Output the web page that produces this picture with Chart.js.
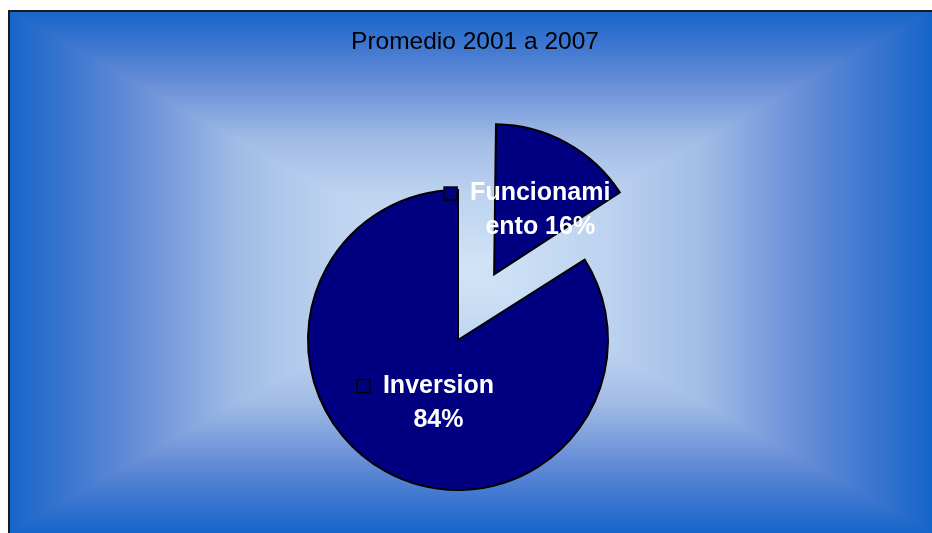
<!DOCTYPE html>
<html>
<head>
<meta charset="utf-8">
<script src="https://cdn.jsdelivr.net/npm/chart.js@4"></script>
<style>
  html, body { margin: 0; padding: 0; background: #fff; }
  canvas { display: block; }
</style>
</head>
<body>
<canvas id="pieChart" width="932" height="533"></canvas>
<script>
const categories = ['Funcionamiento', 'Inversion'];
const shares = [16, 84];
const chartTitle = 'Promedio 2001 a 2007';

// colour ramp of the rectangular "from centre" fill, centre -> edge
const ramp = [
  [0, [210, 229, 247]],
  [0.3, [188, 210, 239]],
  [0.5, [162, 188, 230]],
  [0.71, [106, 144, 216]],
  [0.86, [63, 119, 208]],
  [1, [21, 101, 201]]
];

function rampColor(t) {
  for (let i = 1; i < ramp.length; i++) {
    if (t <= ramp[i][0]) {
      const a = ramp[i - 1], b = ramp[i];
      const u = (t - a[0]) / (b[0] - a[0]);
      return a[1].map((v, k) => v + (b[1][k] - v) * u);
    }
  }
  return ramp[ramp.length - 1][1];
}

let fillCache = null;
function buildFill(w, h) {
  const c = document.createElement('canvas');
  c.width = w; c.height = h;
  const cctx = c.getContext('2d');
  const img = cctx.createImageData(w, h);
  const hw = w / 2, hh = h / 2;
  for (let y = 0; y < h; y++) {
    for (let x = 0; x < w; x++) {
      const t = Math.min(1, Math.max(Math.abs(x + 0.5 - hw) / hw, Math.abs(y + 0.5 - hh) / hh));
      const col = rampColor(t);
      const p = (y * w + x) * 4;
      img.data[p] = col[0]; img.data[p + 1] = col[1]; img.data[p + 2] = col[2]; img.data[p + 3] = 255;
    }
  }
  cctx.putImageData(img, 0, 0);
  return c;
}

const backdrop = {
  id: 'backdrop',
  beforeDraw(chart) {
    const ctx = chart.ctx;
    const x0 = 8, y0 = 10, x1 = chart.width, y1 = chart.height;
    ctx.save();
    ctx.fillStyle = '#fff';
    ctx.fillRect(0, 0, chart.width, chart.height);
    if (!fillCache) fillCache = buildFill(x1 - x0, y1 - y0);
    ctx.drawImage(fillCache, x0, y0);

    ctx.strokeStyle = '#1a1a1a';
    ctx.lineWidth = 2;
    ctx.beginPath();
    ctx.moveTo(x0 + 1, y1);
    ctx.lineTo(x0 + 1, y0 + 1);
    ctx.lineTo(x1, y0 + 1);
    ctx.stroke();

    ctx.fillStyle = '#000';
    ctx.font = '24.5px "Liberation Sans", Arial, sans-serif';
    ctx.textAlign = 'center';
    ctx.textBaseline = 'alphabetic';
    ctx.fillText(chartTitle, 475, 49);
    ctx.restore();
  }
};

// Chart.js grows an exploded arc's radius; keep it at the pie radius like Excel
const keepRadius = {
  id: 'keepRadius',
  afterDatasetsUpdate(chart) {
    const ds = chart.data.datasets[0];
    chart.getDatasetMeta(0).data.forEach((arc, i) => {
      const off = (ds.offset[i] || 0) / 4;
      const fix = 1 - Math.sin(Math.min(Math.PI, arc.circumference));
      arc.outerRadius -= off * fix;
    });
  }
};

function wrapText(ctx, text, maxWidth) {
  const lines = [];
  let line = '';
  text.split(' ').forEach(word => {
    const test = line ? line + ' ' + word : word;
    if (ctx.measureText(test).width <= maxWidth) {
      line = test;
      return;
    }
    if (line) lines.push(line);
    line = '';
    let chunk = '';
    for (const ch of word) {
      if (ctx.measureText(chunk + ch).width > maxWidth && chunk) {
        lines.push(chunk);
        chunk = ch;
      } else {
        chunk += ch;
      }
    }
    line = chunk;
  });
  if (line) lines.push(line);
  return lines;
}

const sliceLabels = {
  id: 'sliceLabels',
  afterDatasetsDraw(chart, args, opts) {
    const ctx = chart.ctx;
    const meta = chart.getDatasetMeta(0);
    const ds = chart.data.datasets[0];
    const r = meta.controller.outerRadius;
    ctx.save();
    ctx.font = 'bold 25px "Liberation Sans", Arial, sans-serif';
    ctx.textAlign = 'center';
    ctx.textBaseline = 'middle';
    meta.data.forEach((arc, i) => {
      const mid = (arc.startAngle + arc.endAngle) / 2;
      const off = (ds.offset[i] || 0) / 4; // arc elements draw offset / 4
      const f = opts.dist[i];
      const ax = arc.x + Math.cos(mid) * (off + r * f) + opts.nudge[i][0];
      const ay = arc.y + Math.sin(mid) * (off + r * f) + opts.nudge[i][1];
      const lines = wrapText(ctx, chart.data.labels[i] + ' ' + ds.data[i] + '%', 150);
      const lh = 34;
      const top = ay - (lines.length - 1) * lh / 2;
      let wMax = 0;
      lines.forEach((l, k) => {
        wMax = Math.max(wMax, ctx.measureText(l).width);
        ctx.fillStyle = '#fff';
        ctx.fillText(l, ax, top + k * lh);
      });
      // legend key
      const kx = ax - wMax / 2 - 13 - 13;
      ctx.fillStyle = ds.backgroundColor;
      ctx.fillRect(kx, top - 6.5, 13, 13);
      ctx.strokeStyle = '#000';
      ctx.lineWidth = 1.5;
      ctx.strokeRect(kx, top - 6.5, 13, 13);
    });
    ctx.restore();
  }
};

new Chart(document.getElementById('pieChart').getContext('2d'), {
  type: 'pie',
  data: {
    labels: categories,
    datasets: [{
      data: shares,
      backgroundColor: '#000080',
      borderColor: '#000',
      borderWidth: 2,
      borderJoinStyle: 'miter',
      offset: [300, 0]
    }]
  },
  options: {
    responsive: false,
    animation: false,
    radius: 150,
    layout: { padding: { left: 0, right: 16, top: 147, bottom: 0 } },
    plugins: {
      legend: { display: false },
      tooltip: { enabled: false },
      sliceLabels: { dist: [0.5, 0.45], nudge: [[10, 2], [13, 4]] }
    }
  },
  plugins: [backdrop, keepRadius, sliceLabels]
});
</script>
</body>
</html>
